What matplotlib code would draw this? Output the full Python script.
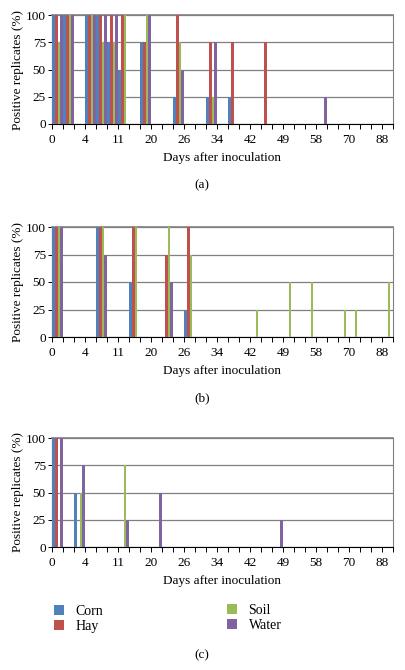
import matplotlib
matplotlib.use("Agg")
import matplotlib.pyplot as plt
from matplotlib.patches import Patch

plt.rcParams['font.family'] = ['Liberation Serif', 'DejaVu Serif']

# sampling days (31 categories, one label every third)
day_labels = ['0', '4', '11', '20', '26', '34', '42', '49', '58', '70', '88']
n_cats = 31

series = ['Corn', 'Hay', 'Soil', 'Water']
colors = ['#4f81bd', '#c0504d', '#9bbb59', '#8064a2']

# panel (a)
cats_a = [0, 1, 3, 4, 5, 6, 8, 11, 14, 16, 19, 24]
corn_a = [100, 100, 100, 100, 75, 50, 75, 25, 25, 25, 0, 0]
hay_a = [100, 100, 100, 100, 100, 100, 75, 100, 75, 75, 75, 0]
soil_a = [75, 100, 100, 75, 75, 100, 100, 75, 25, 0, 0, 0]
water_a = [100, 100, 100, 100, 100, 0, 100, 50, 75, 0, 0, 25]

# panel (b)
cats_b = [0, 4, 7, 10, 12, 18, 21, 23, 26, 27, 30]
corn_b = [100, 100, 50, 0, 25, 0, 0, 0, 0, 0, 0]
hay_b = [100, 100, 100, 75, 100, 0, 0, 0, 0, 0, 0]
soil_b = [100, 100, 100, 100, 75, 25, 50, 50, 25, 25, 50]
water_b = [100, 75, 0, 50, 0, 0, 0, 0, 0, 0, 0]

# panel (c)
cats_c = [0, 2, 6, 9, 20]
corn_c = [100, 50, 0, 0, 0]
hay_c = [100, 0, 0, 0, 0]
soil_c = [0, 50, 75, 0, 0]
water_c = [100, 75, 25, 50, 25]

panels = [
    (cats_a, [corn_a, hay_a, soil_a, water_a], '(a)', 15, 124),
    (cats_b, [corn_b, hay_b, soil_b, water_b], '(b)', 227, 337),
    (cats_c, [corn_c, hay_c, soil_c, water_c], '(c)', 438, 547),
]

W, H = 405, 670
fig = plt.figure(figsize=(W / 100, H / 100), dpi=100)

bw = 0.235
for cats, vals, tag, top, bot in panels:
    ax = fig.add_axes([52 / W, 1 - bot / H, 341 / W, (bot - top) / H])
    for i, v in enumerate(vals):
        xs = [c + 0.03 + bw * (i + 0.5) for c in cats]
        ax.bar(xs, v, width=bw, color=colors[i], linewidth=0, zorder=3)
    ax.set_xlim(0, n_cats)
    ax.set_ylim(0, 100)
    ax.set_yticks([0, 25, 50, 75, 100])
    ax.set_xticks(range(0, n_cats + 1))
    lbls = []
    for k in range(0, n_cats + 1):
        lbls.append(day_labels[k // 3] if k % 3 == 0 and k // 3 < len(day_labels) else '')
    ax.set_xticklabels(lbls)
    ax.yaxis.grid(True, color='#808080', linewidth=0.9, zorder=0)
    ax.set_axisbelow(True)
    ax.tick_params(axis='x', direction='out', length=3.5, width=0.7, pad=4, labelsize=9.5)
    ax.tick_params(axis='y', direction='out', length=3, width=0.7, pad=1.5, labelsize=9.5)
    ax.spines['top'].set_color('#808080')
    ax.spines['top'].set_linewidth(1.2)
    ax.spines['right'].set_color('#808080')
    ax.spines['left'].set_linewidth(0.8)
    ax.spines['bottom'].set_linewidth(0.8)
    fig.text(18 / W, 1 - (top + bot) / 2 / H, 'Positive replicates (%)', rotation=90,
             ha='center', va='center', fontsize=9.5)
    fig.text(222 / W, 1 - (bot + 34) / H, 'Days after inoculation',
             ha='center', va='center', fontsize=9.5)
    if tag != '(c)':
        fig.text(202 / W, 1 - (bot + 61) / H, tag, ha='center', va='center', fontsize=9.5)

fig.text(202 / W, 1 - 655 / H, '(c)', ha='center', va='center', fontsize=9.5)

handles = [Patch(facecolor=c, edgecolor='none') for c in colors]
leg1 = fig.legend(handles[:2], series[:2], loc='upper left', bbox_to_anchor=(54 / W, 1 - 605 / H),
                  frameon=False, fontsize=10, handlelength=0.75, handleheight=0.75,
                  handletextpad=0.8, labelspacing=0.15, borderpad=0, borderaxespad=0)
leg2 = fig.legend(handles[2:], series[2:], loc='upper left', bbox_to_anchor=(227 / W, 1 - 604 / H),
                  frameon=False, fontsize=10, handlelength=0.75, handleheight=0.75,
                  handletextpad=0.8, labelspacing=0.15, borderpad=0, borderaxespad=0)

fig.savefig('out.png', dpi=100)
